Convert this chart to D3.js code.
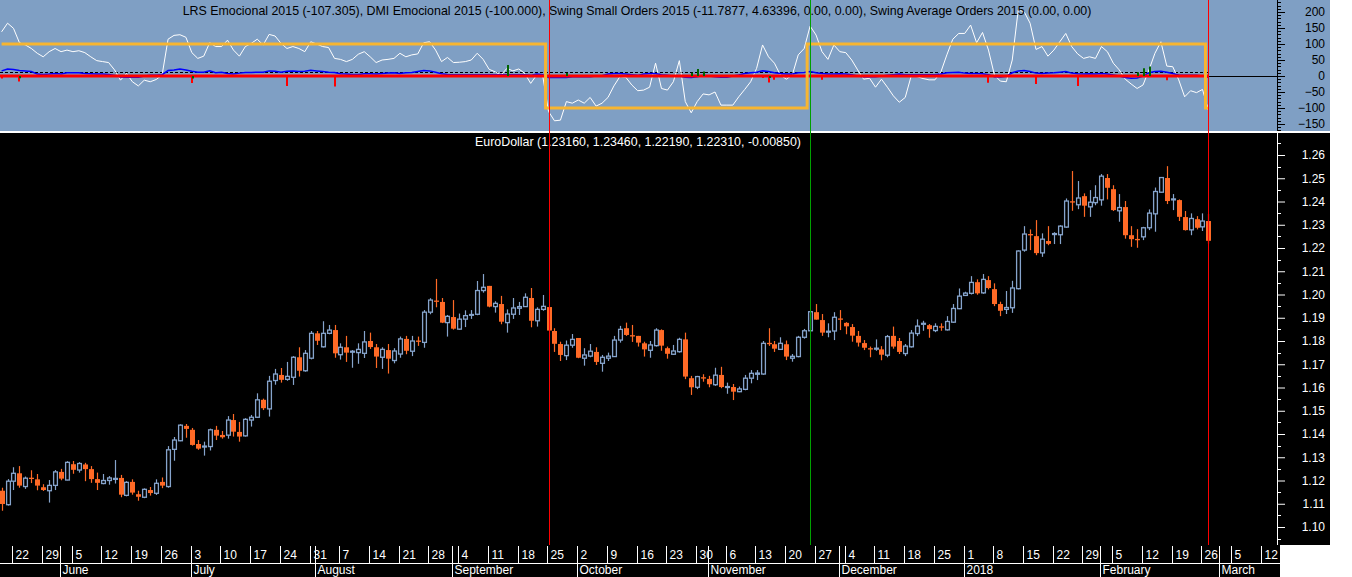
<!DOCTYPE html>
<html><head><meta charset="utf-8">
<script src="https://cdn.jsdelivr.net/npm/d3@7"></script>
<style>
html,body{margin:0;padding:0;background:#fff;}
svg{display:block;font-family:Arial,"Liberation Sans",sans-serif;}
</style>
</head><body>
<svg id="c" width="1352" height="577"></svg>
<script>
// ---------- DATA ----------
const startDate = new Date(2017, 4, 17); // first bar (weekday series)
const opens = [1.1156,1.1096,1.1197,1.1231,1.1174,1.1212,1.1205,1.1171,1.1156,1.1179,
1.1237,1.1202,1.1270,1.1245,1.1269,1.1249,1.1206,1.1187,1.1200,1.1205,
1.1211,1.1136,1.1194,1.1141,1.1128,1.1159,1.1145,1.1194,1.1174,1.1334,
1.1371,1.1435,1.1418,1.1357,1.1344,1.1346,1.1418,1.1396,1.1395,1.1460,
1.1409,1.1392,1.1460,1.1472,1.1547,1.1508,1.1630,1.1654,1.1635,1.1644,
1.1730,1.1672,1.1726,1.1833,1.1775,1.1833,1.1847,1.1741,1.1773,1.1752,
1.1750,1.1747,1.1800,1.1773,1.1730,1.1761,1.1716,1.1744,1.1809,1.1756,
1.1802,1.1794,1.1924,1.1974,1.1968,1.1879,1.1903,1.1851,1.1894,1.1911,
1.1915,1.2017,1.2037,1.1948,1.1959,1.1879,1.1915,1.1941,1.1948,1.1985,
1.1887,1.1936,1.1946,1.1843,1.1787,1.1737,1.1782,1.1813,1.1726,1.1735,
1.1753,1.1704,1.1726,1.1733,1.1804,1.1855,1.1825,1.1822,1.1790,1.1760,
1.1780,1.1847,1.1769,1.1743,1.1754,1.1807,1.1640,1.1601,1.1644,1.1637,
1.1612,1.1654,1.1600,1.1602,1.1582,1.1592,1.1640,1.1657,1.1658,1.1792,
1.1786,1.1764,1.1786,1.1726,1.1733,1.1816,1.1844,1.1924,1.1890,1.1838,
1.1843,1.1897,1.1878,1.1860,1.1822,1.1791,1.1769,1.1765,1.1764,1.1739,
1.1822,1.1800,1.1746,1.1775,1.1832,1.1872,1.1868,1.1845,1.1863,1.1848,
1.1881,1.1939,1.1996,1.2005,1.2053,1.2007,1.2062,1.2023,1.1959,1.1936,
1.1943,1.2025,1.2191,1.2260,1.2251,1.2179,1.2230,1.2258,1.2257,1.2290,
1.2401,1.2386,1.2423,1.2377,1.2395,1.2407,1.2501,1.2453,1.2360,1.2376,
1.2255,1.2239,1.2248,1.2287,1.2347,1.2440,1.2501,1.2407,1.2406,1.2333,
1.2278,1.2324,1.2291,1.2316];
const highs = [1.1169,1.1206,1.1257,1.1262,1.1217,1.1244,1.1228,1.1184,1.1202,1.1245,
1.1250,1.1283,1.1284,1.1279,1.1276,1.1262,1.1234,1.1228,1.1219,1.1288,
1.1224,1.1197,1.1205,1.1156,1.1166,1.1172,1.1205,1.1213,1.1348,1.1387,
1.1442,1.1443,1.1426,1.1374,1.1367,1.1423,1.1435,1.1413,1.1477,1.1486,
1.1452,1.1468,1.1482,1.1575,1.1552,1.1650,1.1680,1.1684,1.1710,1.1735,
1.1773,1.1761,1.1843,1.1843,1.1885,1.1869,1.1869,1.1790,1.1822,1.1761,
1.1790,1.1843,1.1836,1.1787,1.1773,1.1787,1.1769,1.1819,1.1822,1.1822,
1.1819,1.1933,1.1984,1.2067,1.1985,1.1912,1.1976,1.1918,1.1932,1.1933,
1.2058,1.2088,1.2037,1.1971,1.1994,1.1936,1.1985,1.1968,1.2005,1.2028,
1.1945,1.1998,1.1946,1.1855,1.1797,1.1802,1.1830,1.1813,1.1769,1.1787,
1.1773,1.1740,1.1750,1.1822,1.1865,1.1879,1.1869,1.1822,1.1797,1.1800,
1.1855,1.1850,1.1776,1.1783,1.1814,1.1836,1.1650,1.1650,1.1657,1.1650,
1.1685,1.1689,1.1621,1.1615,1.1604,1.1654,1.1675,1.1675,1.1800,1.1855,
1.1800,1.1816,1.1802,1.1744,1.1822,1.1852,1.1929,1.1959,1.1916,1.1876,
1.1924,1.1933,1.1881,1.1873,1.1843,1.1804,1.1776,1.1807,1.1778,1.1826,
1.1862,1.1813,1.1787,1.1847,1.1893,1.1887,1.1873,1.1876,1.1876,1.1907,
1.1959,1.2026,1.2012,1.2079,1.2065,1.2088,1.2079,1.2048,1.1969,1.2015,
1.2059,1.2190,1.2294,1.2280,1.2320,1.2263,1.2294,1.2268,1.2298,1.2413,
1.2531,1.2488,1.2435,1.2449,1.2470,1.2518,1.2518,1.2470,1.2432,1.2402,
1.2294,1.2281,1.2291,1.2366,1.2460,1.2505,1.2552,1.2432,1.2409,1.2359,
1.2349,1.2337,1.2349,1.2346];
const lows = [1.1070,1.1092,1.1159,1.1169,1.1164,1.1189,1.1158,1.1155,1.1105,1.1159,
1.1201,1.1201,1.1229,1.1234,1.1197,1.1190,1.1159,1.1184,1.1182,1.1187,
1.1128,1.1132,1.1139,1.1113,1.1124,1.1135,1.1138,1.1167,1.1169,1.1285,
1.1369,1.1384,1.1350,1.1332,1.1307,1.1329,1.1374,1.1380,1.1380,1.1389,
1.1367,1.1389,1.1432,1.1470,1.1503,1.1475,1.1612,1.1621,1.1629,1.1611,
1.1647,1.1668,1.1721,1.1783,1.1772,1.1829,1.1728,1.1720,1.1710,1.1685,
1.1702,1.1727,1.1766,1.1684,1.1680,1.1660,1.1704,1.1728,1.1743,1.1735,
1.1779,1.1771,1.1915,1.1945,1.1877,1.1819,1.1849,1.1848,1.1860,1.1895,
1.1911,1.2008,1.1945,1.1922,1.1872,1.1836,1.1895,1.1912,1.1948,1.1859,
1.1862,1.1930,1.1842,1.1753,1.1714,1.1718,1.1771,1.1726,1.1694,1.1730,
1.1697,1.1668,1.1714,1.1733,1.1793,1.1822,1.1796,1.1776,1.1733,1.1728,
1.1776,1.1758,1.1724,1.1740,1.1750,1.1636,1.1568,1.1593,1.1625,1.1601,
1.1607,1.1597,1.1573,1.1546,1.1580,1.1588,1.1618,1.1632,1.1655,1.1779,
1.1753,1.1762,1.1718,1.1711,1.1730,1.1810,1.1844,1.1892,1.1822,1.1816,
1.1804,1.1847,1.1829,1.1797,1.1776,1.1761,1.1730,1.1758,1.1717,1.1730,
1.1767,1.1744,1.1735,1.1772,1.1821,1.1844,1.1814,1.1838,1.1844,1.1845,
1.1878,1.1937,1.1994,1.2000,1.1999,1.2003,1.2022,1.1950,1.1907,1.1916,
1.1921,1.2022,1.2184,1.2191,1.2169,1.2162,1.2212,1.2217,1.2217,1.2287,
1.2360,1.2367,1.2334,1.2334,1.2384,1.2382,1.2409,1.2359,1.2313,1.2240,
1.2205,1.2201,1.2234,1.2277,1.2270,1.2439,1.2389,1.2363,1.2316,1.2275,
1.2255,1.2280,1.2273,1.2219];
const closes = [1.1099,1.1197,1.1231,1.1178,1.1210,1.1208,1.1178,1.1159,1.1179,1.1237,
1.1208,1.1278,1.1246,1.1273,1.1249,1.1206,1.1190,1.1200,1.1211,1.1209,
1.1139,1.1192,1.1148,1.1130,1.1162,1.1146,1.1188,1.1178,1.1332,1.1374,
1.1438,1.1422,1.1353,1.1337,1.1348,1.1418,1.1393,1.1386,1.1460,1.1410,
1.1389,1.1463,1.1472,1.1547,1.1511,1.1627,1.1658,1.1633,1.1648,1.1730,
1.1672,1.1747,1.1833,1.1801,1.1833,1.1847,1.1747,1.1773,1.1750,1.1756,
1.1764,1.1796,1.1774,1.1733,1.1764,1.1724,1.1757,1.1809,1.1758,1.1800,
1.1798,1.1924,1.1976,1.1970,1.1879,1.1906,1.1853,1.1894,1.1909,1.1914,
1.2017,1.2031,1.1948,1.1962,1.1883,1.1916,1.1942,1.1948,1.1988,1.1887,
1.1936,1.1949,1.1845,1.1788,1.1740,1.1782,1.1807,1.1728,1.1740,1.1756,
1.1710,1.1730,1.1735,1.1804,1.1850,1.1826,1.1821,1.1793,1.1764,1.1783,
1.1847,1.1780,1.1745,1.1757,1.1807,1.1647,1.1601,1.1647,1.1640,1.1614,
1.1653,1.1602,1.1604,1.1582,1.1594,1.1640,1.1661,1.1662,1.1790,1.1788,
1.1767,1.1790,1.1733,1.1734,1.1816,1.1844,1.1926,1.1892,1.1836,1.1842,
1.1902,1.1893,1.1863,1.1823,1.1793,1.1771,1.1765,1.1769,1.1741,1.1819,
1.1776,1.1753,1.1778,1.1834,1.1864,1.1876,1.1851,1.1863,1.1859,1.1884,
1.1940,1.1993,1.2006,1.2052,1.2005,1.2065,1.2028,1.1959,1.1930,1.1944,
1.2028,1.2187,1.2260,1.2256,1.2178,1.2238,1.2218,1.2262,1.2294,1.2402,
1.2397,1.2415,1.2382,1.2397,1.2417,1.2509,1.2459,1.2363,1.2374,1.2255,
1.2238,1.2235,1.2287,1.2350,1.2443,1.2503,1.2402,1.2411,1.2334,1.2277,
1.2327,1.2287,1.2316,1.2231];

// LRS Emocional (white line)
const lrs = [138,165,149,104,97,86,71,60,76,86,
76,81,76,79,73,60,48,45,42,19,
-13,8,-18,-31,-13,-18,-11,3,115,127,
129,121,73,55,62,104,92,92,112,81,
62,92,102,115,97,130,125,102,86,92,
86,76,107,100,92,89,55,52,45,52,
68,76,60,42,50,52,55,71,60,66,
69,104,107,81,45,58,42,43,45,50,
71,52,21,13,3,24,16,22,8,-23,
3,3,-111,-140,-138,-80,-85,-75,-85,-67,
-94,-85,-67,-31,-2,-4,-28,-46,-44,-35,
40,-39,-44,-18,48,-80,-115,-80,-56,-59,
-50,-91,-91,-91,-65,-42,-18,24,97,60,
40,3,-10,3,66,86,156,128,76,52,
97,76,73,50,19,-10,-7,-35,-10,-35,
-62,-82,-67,0,-2,-8,-12,-12,13,66,
115,133,133,159,104,136,81,3,-16,-18,
50,206,201,165,83,92,62,81,107,133,
92,69,55,60,55,92,76,40,19,-10,
-25,-39,-28,19,71,107,31,29,-12,-65,
-46,-52,-42,-107];

// DMI Emocional (yellow step line): [number of bars, value]
const dmiRuns = [[92,100],[44,-100],[67,100],[1,-100]];

// Swing Small Orders (blue line)
const swing = [16,22,20,17,16,14,6,5,6,8,
6,10,10,10,8,7,6,6,5,2,
-3,-4,-4,-4,0,2,2,4,17,19,
22,19,15,12,12,16,10,12,8,6,
9,11,11,12,12,16,15,12,15,16,
14,15,18,16,14,12,11,7,6,5,
5,7,7,6,8,9,10,8,10,11,
14,17,16,12,7,5,
4,4,4,4,4,4,4,4,4,4,4,4,4,2,6,4,
-5,-5,-5,-5,-2,-2,-2,-2,
0,1,6,8,8,6,4,2,6,8,
8,4,2,0,0,-4,-5,-2,2,0,
-2,-4,-4,0,3,8,10,12,16,14,
10,8,6,6,10,11,14,10,8,6,
6,7,6,4,0,-2,-2,-2,0,2,
4,6,4,4,4,4,4,4,6,10,
11,12,9,8,8,7,4,-2,-3,-1,
10,16,17,14,9,8,9,10,12,14,
9,7,6,7,6,8,6,3,0,-5,
-7,-6,0,10,14,15,12,8,3,2,
2,2,0,-4];
const swingLevel = 11; // dashed reference level

// red / green order marks
const redIdx = [0,3,32,48,56,128,129,130,138,166,174,181,196];
const redVal = [-8,-17,-22,-31,-33,-6,-20,-12,-12,-21,-25,-31,-13];
const greenIdx = [3,32,85,95,116,117,118,129,191,192,193];
const greenVal = [-7,-8,34,9,10,22,14,-6,12,24,30];

// vertical markers (bar indices)
const markerIdx = [92,136,203];
const markerColor = ["#ff0000","#00a000","#ff0000"];

const priceTicks = d3.range(110,127).map(v=>v/100);
const oscTicks = [-150,-100,-50,0,50,100,150,200];
const monthNames = ["January","February","March","April","May","June","July","August","September","October","November","December"];

const topTitle = "LRS Emocional 2015 (-107.305), DMI Emocional 2015 (-100.000), Swing Small Orders 2015 (-11.7877, 4.63396, 0.00, 0.00), Swing Average Orders 2015 (0.00, 0.00)";
const mainTitle = "EuroDollar (1.23160, 1.23460, 1.22190, 1.22310, -0.00850)";

// ---------- BUILD ----------
const n = opens.length;
const dmi = [];
dmiRuns.forEach(([c,v])=>{for(let k=0;k<c;k++) dmi.push(v);});

const days = [];
{ let d = new Date(startDate); while(days.length < n + 20){ const wd=d.getDay(); if(wd!==0&&wd!==6) days.push(new Date(d)); d.setDate(d.getDate()+1);} }

const svg = d3.select("#c");
const W = 1352;
const x = d3.scaleLinear().domain([0, n-1]).range([1.6, 1.6 + 5.945*(n-1)]);
const yP = d3.scaleLinear().domain([1.10, 1.26]).range([527, 155]);
const yO = d3.scaleLinear().domain([-150, 200]).range([124, 12]);

const BLUE_BG = "#7f9fc4";
const BULL = "#86a4cc";
const BEAR = "#ff6a26";
const FONT = "Arial, 'Liberation Sans', sans-serif";

svg.append("rect").attr("x",0).attr("y",0).attr("width",W).attr("height",577).attr("fill","#fff");
svg.append("rect").attr("x",0).attr("y",0).attr("width",1330).attr("height",131).attr("fill",BLUE_BG);
svg.append("rect").attr("x",0).attr("y",133).attr("width",1330).attr("height",412).attr("fill","#000");
svg.append("rect").attr("x",0).attr("y",545).attr("width",1280).attr("height",32).attr("fill","#000");

// ---- top panel ----
const topG = svg.append("g");
const xEnd = x(n-1);
topG.append("line").attr("x1",0).attr("x2",1277).attr("y1",yO(0)+0.5).attr("y2",yO(0)+0.5).attr("stroke","#000").attr("stroke-width",1);
topG.append("line").attr("x1",0).attr("x2",xEnd).attr("y1",Math.round(yO(swingLevel))+0.5).attr("y2",Math.round(yO(swingLevel))+0.5)
  .attr("stroke","#000").attr("stroke-width",1).attr("stroke-dasharray","3,2");
topG.append("path").datum(lrs).attr("fill","none").attr("stroke","#fff").attr("stroke-width",1)
  .attr("d", d3.line().x((d,i)=>x(i)).y(d=>yO(d)));
topG.append("path").datum(swing).attr("fill","none").attr("stroke","#0000ff").attr("stroke-width",1.5)
  .attr("d", d3.line().x((d,i)=>x(i)).y(d=>yO(d)));
topG.append("line").attr("x1",0).attr("x2",xEnd).attr("y1",yO(0)).attr("y2",yO(0)).attr("stroke","#ff0000").attr("stroke-width",3);
topG.selectAll(".rs").data(redIdx).enter().append("line")
  .attr("x1",i=>Math.round(x(i))).attr("x2",i=>Math.round(x(i)))
  .attr("y1",yO(0)).attr("y2",(i,k)=>yO(redVal[k])).attr("stroke","#ff0000").attr("stroke-width",2);
topG.selectAll(".gs").data(greenIdx).enter().append("line")
  .attr("x1",i=>Math.round(x(i))+1).attr("x2",i=>Math.round(x(i))+1)
  .attr("y1",yO(0)).attr("y2",(i,k)=>yO(greenVal[k])).attr("stroke","#006400").attr("stroke-width",2);
topG.append("path").datum(dmi).attr("fill","none").attr("stroke","#f7b531").attr("stroke-width",3)
  .attr("d", d3.line().curve(d3.curveStep).x((d,i)=>x(i)).y(d=>yO(d)));

const gTopAx = topG.append("g").attr("transform","translate(1277,0)");
gTopAx.append("line").attr("x1",0.5).attr("x2",0.5).attr("y1",0).attr("y2",131).attr("stroke","#000");
gTopAx.selectAll(".mn").data(d3.range(-170,231,10)).enter().append("line")
  .attr("x1",0).attr("x2",4).attr("y1",d=>Math.round(yO(d))+0.5).attr("y2",d=>Math.round(yO(d))+0.5).attr("stroke","#000");
const axO = d3.axisRight(yO).tickValues(oscTicks).tickSize(8).tickPadding(0).tickFormat(d3.format("d"));
const gAO = gTopAx.append("g").call(axO);
gAO.select(".domain").remove();
gAO.selectAll("line").attr("stroke","#000");
gAO.selectAll("text").attr("x",48).attr("text-anchor","end").attr("fill","#000").style("font-size","12px").style("font-family",FONT);

svg.append("text").attr("x",637).attr("y",15).attr("text-anchor","middle").attr("fill","#000")
  .style("font-size","12.4px").text(topTitle);

svg.append("rect").attr("x",0).attr("y",131).attr("width",1330).attr("height",2).attr("fill","#fff");

// ---- main panel ----
const mainG = svg.append("g");
const candles = mainG.selectAll(".cd").data(d3.range(n)).enter().append("g");
candles.append("line")
  .attr("x1",i=>Math.round(x(i))+0.5).attr("x2",i=>Math.round(x(i))+0.5)
  .attr("y1",i=>yP(highs[i])).attr("y2",i=>yP(lows[i]))
  .attr("stroke",i=>closes[i]>=opens[i]?BULL:BEAR).attr("stroke-width",1.2);
candles.each(function(i){
  const g = d3.select(this);
  const cx = Math.round(x(i))+0.5;
  const bull = closes[i]>=opens[i];
  const yt = yP(Math.max(opens[i],closes[i])), yb = yP(Math.min(opens[i],closes[i]));
  if(bull){
    g.append("rect").attr("x",cx-1.9).attr("y",yt).attr("width",3.8).attr("height",Math.max(0.8,yb-yt))
      .attr("fill","#000").attr("stroke",BULL).attr("stroke-width",1.3);
  } else {
    g.append("rect").attr("x",cx-2.5).attr("y",yt).attr("width",5).attr("height",Math.max(1.3,yb-yt)).attr("fill",BEAR);
  }
});

svg.append("text").attr("x",638).attr("y",146).attr("text-anchor","middle").attr("fill","#fff")
  .style("font-size","12.4px").text(mainTitle);

const gMainAx = svg.append("g").attr("transform","translate(1277,0)");
gMainAx.append("line").attr("x1",0.5).attr("x2",0.5).attr("y1",133).attr("y2",545).attr("stroke","#fff");
gMainAx.selectAll(".mn").data(d3.range(1095,1266,10).map(v=>v/1000)).enter().append("line")
  .attr("x1",0).attr("x2",4).attr("y1",d=>Math.round(yP(d))+0.5).attr("y2",d=>Math.round(yP(d))+0.5).attr("stroke","#fff");
const axP = d3.axisRight(yP).tickValues(priceTicks).tickSize(8).tickPadding(0).tickFormat(d3.format(".2f"));
const gAP = gMainAx.append("g").call(axP);
gAP.select(".domain").remove();
gAP.selectAll("line").attr("stroke","#fff");
gAP.selectAll("text").attr("x",48).attr("text-anchor","end").attr("fill","#fff").style("font-size","12px").style("font-family",FONT);

markerIdx.forEach((i,k)=>{
  svg.append("line").attr("x1",Math.round(x(i))+0.5).attr("x2",Math.round(x(i))+0.5).attr("y1",0).attr("y2",545)
    .attr("stroke",markerColor[k]).attr("stroke-width",1).attr("shape-rendering","crispEdges");
});

// ---- x axis ----
const gx = svg.append("g");
const tickX = idx => Math.round(x(idx - 1.2)) + 0.5;
const weekTicks = days.map((d,i)=>({d,i})).filter(o=>o.d.getDay()===1 && tickX(o.i) < 1276);
const monthStarts = days.map((d,i)=>({d,i})).filter(o=>o.i>0 && o.d.getMonth()!==days[o.i-1].getMonth() && tickX(o.i) < 1276);
gx.append("line").attr("x1",0).attr("x2",1280).attr("y1",563.5).attr("y2",563.5).attr("stroke","#fff");
gx.selectAll(".wt").data(weekTicks).enter().append("line")
  .attr("x1",o=>tickX(o.i)).attr("x2",o=>tickX(o.i)).attr("y1",546).attr("y2",563).attr("stroke","#fff");
gx.selectAll(".wl").data(weekTicks).enter().append("text")
  .attr("x",o=>tickX(o.i)+3).attr("y",559).attr("fill","#fff").style("font-size","12px").text(o=>o.d.getDate());
gx.selectAll(".mt").data(monthStarts).enter().append("line")
  .attr("x1",o=>tickX(o.i)).attr("x2",o=>tickX(o.i)).attr("y1",546).attr("y2",577).attr("stroke","#fff");
gx.selectAll(".ml").data(monthStarts).enter().append("text")
  .attr("x",o=>tickX(o.i)+2).attr("y",574).attr("fill","#fff").style("font-size","12px")
  .text(o=>o.d.getMonth()===0 ? String(o.d.getFullYear()) : monthNames[o.d.getMonth()]);
</script>
</body></html>
